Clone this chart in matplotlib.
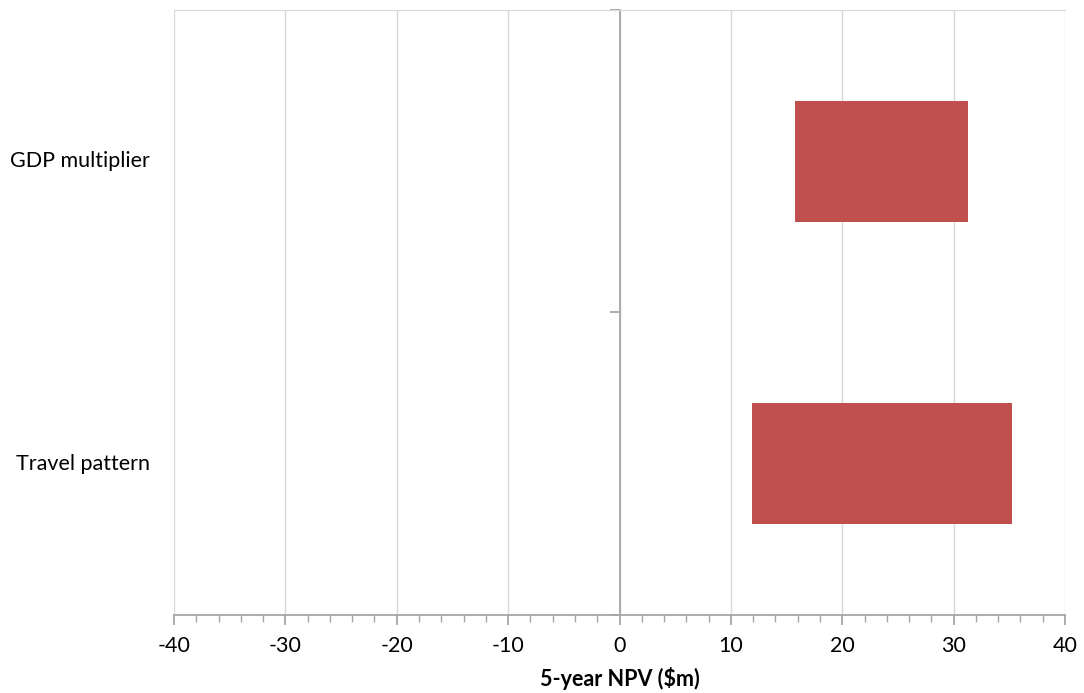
import numpy as np
import matplotlib.pyplot as plt
from matplotlib.transforms import blended_transform_factory
from matplotlib.ticker import MultipleLocator

plt.rcParams['font.family'] = ['Lato', 'DejaVu Sans']
plt.rcParams['axes.unicode_minus'] = False

categories = ['Travel pattern', 'GDP multiplier']
low = [11.9, 15.8]
high = [35.2, 31.3]

fig = plt.figure(figsize=(10.84, 6.93), dpi=100)
ax = fig.add_axes([0.1605, 0.1126, 0.8220, 0.8730])

ypos = np.arange(len(categories))
widths = [h - l for l, h in zip(low, high)]
ax.barh(ypos, widths, left=low, height=0.4, color='#C0504D', zorder=3)

ax.set_xlim(-40, 40)
ax.set_ylim(-0.5, len(categories) - 0.5)
ax.xaxis.set_major_locator(MultipleLocator(10))
ax.xaxis.set_minor_locator(MultipleLocator(2))
ax.grid(axis='x', which='major', color='#d9d9d9', linewidth=1, zorder=0)

axis_col = '#a6a6a6'
ax.spines['left'].set_position(('data', 0))
ax.spines['left'].set_color(axis_col)
ax.spines['left'].set_linewidth(1.3)
ax.spines['bottom'].set_color(axis_col)
ax.spines['bottom'].set_linewidth(1.3)
ax.spines['top'].set_color('#d9d9d9')
ax.spines['right'].set_visible(False)

# y ticks at the category boundaries only, no labels on the centre axis
ax.set_yticks([])
ax.set_yticks(np.arange(-0.5, len(categories), 1.0), minor=True)
ax.tick_params(axis='y', which='minor', direction='out', length=7, color=axis_col,
               width=1.3, labelleft=False)
ax.tick_params(axis='x', which='major', direction='out', length=7, color=axis_col,
               width=1.3, labelsize=15.5, pad=8)
ax.tick_params(axis='x', which='minor', direction='out', length=5, color=axis_col,
               width=1.0)

trans = blended_transform_factory(ax.transAxes, ax.transData)
for y, name in zip(ypos, categories):
    ax.text(-0.027, y, name, transform=trans, ha='right', va='center', fontsize=15.5)

ax.set_xlabel('5-year NPV ($m)', fontsize=15.5, fontweight='bold', labelpad=8)

fig.savefig('out.png', dpi=100)
